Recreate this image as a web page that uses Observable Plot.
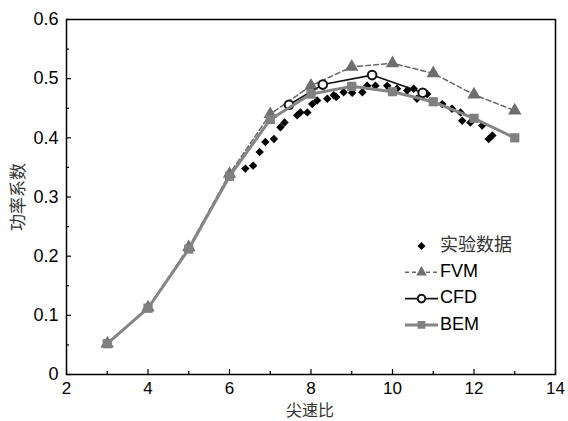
<!DOCTYPE html>
<html><head><meta charset="utf-8">
<script src="https://cdn.jsdelivr.net/npm/d3@7"></script>
<script src="https://cdn.jsdelivr.net/npm/@observablehq/plot@0.6"></script>
<style>
html,body{margin:0;padding:0;background:#fff;}
#chart{position:relative;width:568px;height:421px;}
</style></head>
<body><div id="chart"></div>
<script>
// ---- data ----
const xMajor = [2,4,6,8,10,12,14];
const xMinor = [3,5,7,9,11,13];
const yMajor = [0,0.1,0.2,0.3,0.4,0.5,0.6];
const yMinor = [0.05,0.15,0.25,0.35,0.45,0.55];

const bemX = [3,4,5,6,7,8,9,10,11,12,13];
const bemY = [0.052,0.112,0.212,0.335,0.431,0.474,0.487,0.478,0.461,0.433,0.400];

const fvmX = [3,4,5,6,7,8,9,10,11,12,13];
const fvmY = [0.052,0.113,0.215,0.339,0.440,0.488,0.520,0.526,0.509,0.473,0.446];

const cfdX = [7.46,8.29,9.5,10.74];
const cfdY = [0.456,0.490,0.506,0.476];

const expX = [6.39,6.58,6.74,6.88,7.09,7.25,7.35,7.66,7.74,7.91,8.03,8.15,8.40,8.56,8.62,8.80,9.01,9.26,9.38,9.58,9.87,10.11,10.36,10.52,10.60,10.85,11.22,11.46,11.67,11.71,11.91,12.20,12.36,12.45];
const expY = [0.348,0.353,0.376,0.393,0.398,0.418,0.426,0.438,0.443,0.443,0.457,0.463,0.466,0.472,0.469,0.477,0.476,0.477,0.488,0.488,0.488,0.483,0.480,0.483,0.466,0.474,0.457,0.449,0.443,0.429,0.426,0.421,0.398,0.404];

const legendLabels = ["实验数据","FVM","CFD","BEM"];

const toRows = (xs, ys) => xs.map((x,i)=>({x, y: ys[i]}));
const bem = toRows(bemX,bemY), fvm = toRows(fvmX,fvmY), cfd = toRows(cfdX,cfdY), exp = toRows(expX,expY);

const font = "'Liberation Sans', Arial, 'Noto Sans CJK SC', sans-serif";
const cjk = "'Noto Sans CJK SC', sans-serif";

const W = 568, H = 421, mL = 66, mR = 13, mT = 19, mB = 47;
const xDom = [2,14], yDom = [0,0.6];
// tick lengths expressed in data units (px -> data)
const pxX = (xDom[1]-xDom[0]) / (W - mL - mR);
const pxY = (yDom[1]-yDom[0]) / (H - mT - mB);

const chart = Plot.plot({
  width: W, height: H,
  marginLeft: mL, marginRight: mR, marginTop: mT, marginBottom: mB,
  style: {fontFamily: font, fontSize: "18px", background: "white", color: "black"},
  x: {domain: xDom},
  y: {domain: yDom},
  marks: [
    Plot.axisX({ticks: xMajor, tickSize: 0, tickPadding: 7, fontSize: 17, label: null}),
    Plot.axisY({ticks: yMajor, tickSize: 0, tickPadding: 8, fontSize: 18, label: null,
      tickFormat: d => d === 0 ? "0" : d.toFixed(1)}),
    // inward tick marks
    Plot.ruleX(xMajor, {x: d => d, y1: yDom[0], y2: yDom[0] + 5*pxY, stroke: "black", strokeWidth: 1.2}),
    Plot.ruleX(xMinor, {x: d => d, y1: yDom[0], y2: yDom[0] + 3*pxY, stroke: "black", strokeWidth: 1.2}),
    Plot.ruleY(yMajor, {y: d => d, x1: xDom[0], x2: xDom[0] + 5*pxX, stroke: "black", strokeWidth: 1.2}),
    Plot.ruleY(yMinor, {y: d => d, x1: xDom[0], x2: xDom[0] + 3*pxX, stroke: "black", strokeWidth: 1.2}),
    Plot.dot(exp, {x: "x", y: "y", symbol: "diamond2", r: 3.8, fill: "black", stroke: "none"}),
    Plot.line(fvm, {x: "x", y: "y", stroke: "#666", strokeWidth: 1.5, strokeDasharray: "5,3"}),
    Plot.dot(fvm, {x: "x", y: "y", symbol: "triangle", r: 5, fill: "#6e6e6e", stroke: "none"}),
    Plot.line(cfd, {x: "x", y: "y", stroke: "#111", strokeWidth: 1.6}),
    Plot.dot(cfd, {x: "x", y: "y", symbol: "circle", r: 4.3, fill: "white", stroke: "#111", strokeWidth: 2}),
    Plot.line(bem, {x: "x", y: "y", stroke: "#858585", strokeWidth: 3}),
    Plot.dot(bem, {x: "x", y: "y", symbol: "square", r: 5.2, fill: "#808080", stroke: "none"}),
    Plot.frame({stroke: "black", strokeWidth: 1.5})
  ]
});

const svg = d3.select(chart);
// axis titles
svg.append("text").attr("x", 310).attr("y", 412).attr("text-anchor","middle")
  .attr("dominant-baseline","middle").attr("font-family", cjk).attr("font-size", 16)
  .attr("fill","#333").text("尖速比");
svg.append("text").attr("transform","translate(19,197) rotate(-90)").attr("text-anchor","middle")
  .attr("dominant-baseline","middle").attr("font-family", cjk).attr("font-size", 17)
  .attr("fill","#333").text("功率系数");

// legend
const lg = svg.append("g");
const rows = [
  {sym: d3.symbolDiamond2, size: 40, fill: "black", stroke: null, line: null},
  {sym: d3.symbolTriangle, size: 50, fill: "#6e6e6e", stroke: null, line: {stroke:"#666", w:1.5, dash:"4,3"}},
  {sym: d3.symbolCircle, size: 45, fill: "white", stroke: "#111", line: {stroke:"#111", w:1.6, dash:null}},
  {sym: d3.symbolSquare, size: 60, fill: "#808080", stroke: null, line: {stroke:"#858585", w:3, dash:null}}
];
rows.forEach((r,i) => {
  const cy = 246 + i*26.3;
  if (r.line) {
    lg.append("line").attr("x1",405).attr("x2",438).attr("y1",cy).attr("y2",cy)
      .attr("stroke", r.line.stroke).attr("stroke-width", r.line.w)
      .attr("stroke-dasharray", r.line.dash);
  }
  lg.append("path").attr("transform", `translate(421.5,${cy})`)
    .attr("d", d3.symbol(r.sym, r.size)())
    .attr("fill", r.fill).attr("stroke", r.stroke).attr("stroke-width", r.stroke ? 2 : null);
  lg.append("text").attr("x", 440).attr("y", cy).attr("dominant-baseline","middle")
    .attr("text-anchor","start")
    .attr("font-family", i === 0 ? cjk : font).attr("font-size", 18)
    .attr("fill", i === 0 ? "#333" : "black").text(legendLabels[i]);
});

document.getElementById("chart").appendChild(chart);
</script>
</body></html>
